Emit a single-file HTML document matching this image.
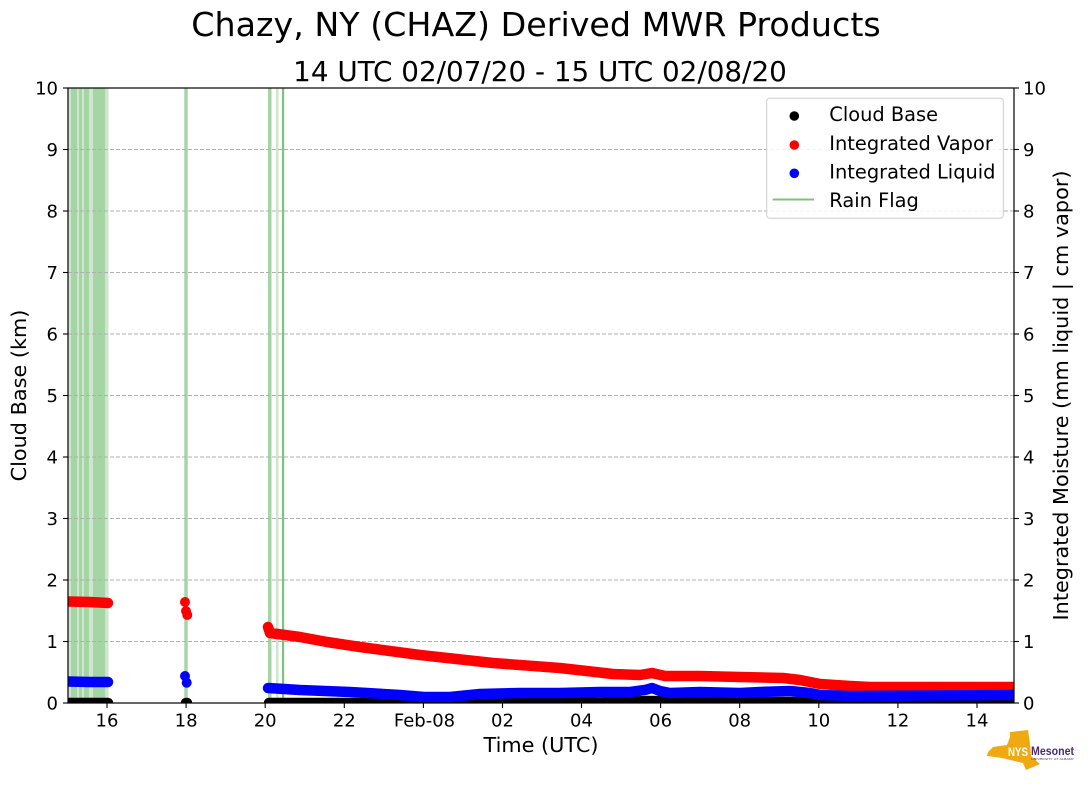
<!DOCTYPE html>
<html><head><meta charset="utf-8"><style>
html,body{margin:0;padding:0;background:#fff;}
svg{display:block;font-family:"DejaVu Sans","Liberation Sans",sans-serif;}
</style></head><body>
<svg width="1089" height="804" viewBox="0 0 1089 804" xmlns="http://www.w3.org/2000/svg">
<defs><clipPath id="ax"><rect x="68" y="88" width="946" height="615"/></clipPath></defs>
<rect width="1089" height="804" fill="#fff"/>
<text x="536" y="36" font-size="33.3" text-anchor="middle">Chazy, NY (CHAZ) Derived MWR Products</text>
<text x="540" y="81" font-size="27.8" text-anchor="middle">14 UTC 02/07/20 - 15 UTC 02/08/20</text>
<g clip-path="url(#ax)">
<g fill="#cde6cd">
<rect x="68" y="88" width="3" height="615"/>
<rect x="77" y="88" width="2" height="615"/>
<rect x="82" y="88" width="2" height="615"/>
<rect x="89" y="88" width="4" height="615"/>
<rect x="105" y="88" width="3.5" height="615"/>
<rect x="276" y="88" width="2.5" height="615"/>
</g>
<g fill="#a5d4a5">
<rect x="71" y="88" width="6" height="615"/>
<rect x="79" y="88" width="3" height="615"/>
<rect x="84" y="88" width="5" height="615"/>
<rect x="93" y="88" width="12" height="615"/>
<rect x="184.3" y="88" width="3.4" height="615"/>
<rect x="268" y="88" width="3.5" height="615"/>
</g>
<rect x="282" y="88" width="2.2" height="615" fill="#80c280"/>
<g stroke="#b0b0b0" stroke-width="1" stroke-dasharray="4,2">
<line x1="68" x2="1014" y1="641.5" y2="641.5"/>
<line x1="68" x2="1014" y1="580" y2="580"/>
<line x1="68" x2="1014" y1="518.5" y2="518.5"/>
<line x1="68" x2="1014" y1="457" y2="457"/>
<line x1="68" x2="1014" y1="395.5" y2="395.5"/>
<line x1="68" x2="1014" y1="334" y2="334"/>
<line x1="68" x2="1014" y1="272.5" y2="272.5"/>
<line x1="68" x2="1014" y1="211" y2="211"/>
<line x1="68" x2="1014" y1="149.5" y2="149.5"/>
</g>
<g fill="none" stroke-linecap="round" stroke-linejoin="round" stroke-width="10.5">
<polyline stroke="#000" points="68,703 108,703"/>
<polyline stroke="#000" points="186,703 187,703"/>
<polyline stroke="#000" points="269,703 420,703 430,702 600,702.5 650,701 700,702 900,702 1014,702"/>
<polyline stroke="#f00" points="68,601.5 90,602 108,603"/>
<polyline stroke="#f00" points="268,627 270,633 300,637 327,642 360,647 420,655 493,663 560,668 613,674 640,675 652,673 665,676 700,676 740,677 783,678 800,680 820,684 850,686 870,687 1014,687"/>
<polyline stroke="#00f" points="68,681.5 90,682 108,682"/>
<polyline stroke="#00f" points="268,688 300,690 350,692 400,695 424,697 450,697 480,694 520,693 560,693 600,692 630,692 645,690 652,688 660,691 670,693 700,692 740,693 760,692 790,691 810,693 820,695 850,696 1014,695"/>
</g>
<g fill="#f00">
<circle cx="185" cy="602" r="5"/><circle cx="186" cy="611" r="5"/><circle cx="187.3" cy="615" r="5"/>
</g>
<g fill="#00f">
<circle cx="185" cy="676" r="5"/><circle cx="186.7" cy="682.7" r="5"/>
</g>
</g>
<rect x="68" y="88" width="946" height="615" fill="none" stroke="#000" stroke-width="1.2"/>
<g stroke="#000" stroke-width="1.1">
<line x1="63" x2="68" y1="703" y2="703"/><line x1="63" x2="68" y1="641.5" y2="641.5"/><line x1="63" x2="68" y1="580" y2="580"/><line x1="63" x2="68" y1="518.5" y2="518.5"/><line x1="63" x2="68" y1="457" y2="457"/><line x1="63" x2="68" y1="395.5" y2="395.5"/><line x1="63" x2="68" y1="334" y2="334"/><line x1="63" x2="68" y1="272.5" y2="272.5"/><line x1="63" x2="68" y1="211" y2="211"/><line x1="63" x2="68" y1="149.5" y2="149.5"/><line x1="63" x2="68" y1="88" y2="88"/>
<line x1="1014" x2="1019" y1="703" y2="703"/><line x1="1014" x2="1019" y1="641.5" y2="641.5"/><line x1="1014" x2="1019" y1="580" y2="580"/><line x1="1014" x2="1019" y1="518.5" y2="518.5"/><line x1="1014" x2="1019" y1="457" y2="457"/><line x1="1014" x2="1019" y1="395.5" y2="395.5"/><line x1="1014" x2="1019" y1="334" y2="334"/><line x1="1014" x2="1019" y1="272.5" y2="272.5"/><line x1="1014" x2="1019" y1="211" y2="211"/><line x1="1014" x2="1019" y1="149.5" y2="149.5"/><line x1="1014" x2="1019" y1="88" y2="88"/>
<line x1="107" x2="107" y1="703" y2="708"/><line x1="186.1" x2="186.1" y1="703" y2="708"/><line x1="265.2" x2="265.2" y1="703" y2="708"/><line x1="344.3" x2="344.3" y1="703" y2="708"/><line x1="423.4" x2="423.4" y1="703" y2="708"/><line x1="502.5" x2="502.5" y1="703" y2="708"/><line x1="581.5" x2="581.5" y1="703" y2="708"/><line x1="660.6" x2="660.6" y1="703" y2="708"/><line x1="739.7" x2="739.7" y1="703" y2="708"/><line x1="818.8" x2="818.8" y1="703" y2="708"/><line x1="897.9" x2="897.9" y1="703" y2="708"/><line x1="977" x2="977" y1="703" y2="708"/>
</g>
<g font-size="18" text-anchor="end">
<text x="58" y="709.5">0</text><text x="58" y="648">1</text><text x="58" y="586.5">2</text><text x="58" y="525">3</text><text x="58" y="463.5">4</text><text x="58" y="402">5</text><text x="58" y="340.5">6</text><text x="58" y="279">7</text><text x="58" y="217.5">8</text><text x="58" y="156">9</text><text x="58" y="94.5">10</text>
</g>
<g font-size="18" text-anchor="start">
<text x="1023" y="709.5">0</text><text x="1023" y="648">1</text><text x="1023" y="586.5">2</text><text x="1023" y="525">3</text><text x="1023" y="463.5">4</text><text x="1023" y="402">5</text><text x="1023" y="340.5">6</text><text x="1023" y="279">7</text><text x="1023" y="217.5">8</text><text x="1023" y="156">9</text><text x="1023" y="94.5">10</text>
</g>
<g font-size="18" text-anchor="middle">
<text x="107" y="726.5">16</text><text x="186.1" y="726.5">18</text><text x="265.2" y="726.5">20</text><text x="344.3" y="726.5">22</text><text x="424.5" y="726.5">Feb-08</text><text x="502.5" y="726.5">02</text><text x="581.5" y="726.5">04</text><text x="660.6" y="726.5">06</text><text x="739.7" y="726.5">08</text><text x="818.8" y="726.5">10</text><text x="897.9" y="726.5">12</text><text x="977" y="726.5">14</text>
</g>
<text x="541" y="752" font-size="20.8" text-anchor="middle">Time (UTC)</text>
<text transform="translate(26,395.5) rotate(-90)" font-size="20.8" text-anchor="middle">Cloud Base (km)</text>
<text transform="translate(1068,395.5) rotate(-90)" font-size="20.8" text-anchor="middle">Integrated Moisture (mm liquid | cm vapor)</text>
<rect x="766.7" y="98.3" width="236.6" height="120" rx="3" fill="#fff" fill-opacity="0.85" stroke="#cccccc" stroke-width="1"/>
<circle cx="794.3" cy="116" r="4.8" fill="#000"/>
<circle cx="794.3" cy="145" r="4.8" fill="#f00"/>
<circle cx="794.3" cy="173.3" r="4.8" fill="#00f"/>
<line x1="772.7" x2="814" y1="199.5" y2="199.5" stroke="#80c080" stroke-width="2"/>
<g font-size="19.4">
<text x="829.3" y="121">Cloud Base</text>
<text x="829.3" y="150">Integrated Vapor</text>
<text x="829.3" y="178.3">Integrated Liquid</text>
<text x="829.3" y="207">Rain Flag</text>
</g>
<polygon points="1010,732 1028,730 1030,744 1031,756 1040,764 1026,770 1023,763 1002,758 987,756 988,752 993,747 1007,745 1010,737" fill="#eeaa10"/>
<text x="1008" y="756" font-size="12" font-weight="bold" fill="#fff" font-family="Liberation Sans Narrow, Liberation Sans, sans-serif" textLength="20" lengthAdjust="spacingAndGlyphs">NYS</text>
<text x="1031" y="755" font-size="12" font-weight="bold" fill="#4b2c74" font-family="Liberation Sans Narrow, Liberation Sans, sans-serif" textLength="43" lengthAdjust="spacingAndGlyphs">Mesonet</text>
<text x="1031" y="760" font-size="3" fill="#4b2c74" textLength="43" lengthAdjust="spacingAndGlyphs">UNIVERSITY AT ALBANY</text>
</svg>
</body></html>
